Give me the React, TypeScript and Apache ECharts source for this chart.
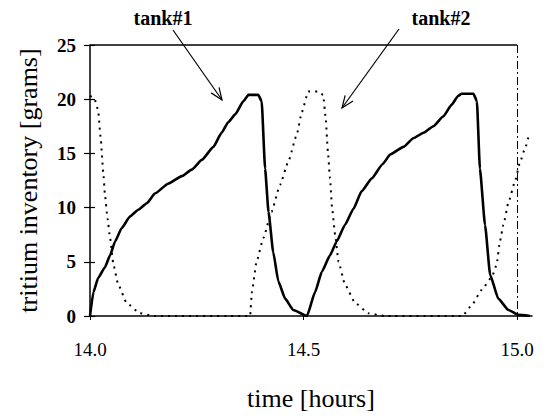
import React, { useEffect, useRef } from "react";
import * as echarts from "echarts";

// tank #1 (solid curve): time [hours], inventory [grams]
const tank1Time = [
  14.0, 14.008, 14.019, 14.035, 14.047, 14.059, 14.074, 14.094, 14.113, 14.133,
  14.152, 14.183, 14.215, 14.238, 14.262, 14.289, 14.308, 14.324, 14.34, 14.359,
  14.371, 14.394, 14.402, 14.41, 14.418, 14.429, 14.441, 14.457, 14.476, 14.508,
  14.527, 14.543, 14.562, 14.578, 14.597, 14.617, 14.636, 14.66, 14.685, 14.703,
  14.734, 14.757, 14.781, 14.804, 14.827, 14.847, 14.862, 14.87, 14.898, 14.906,
  14.913, 14.925, 14.937, 14.956, 14.98, 15.003, 15.03,
];
const tank1Value = [
  0, 2.2, 3.5, 4.5, 5.6, 6.9, 8.1, 9.2, 9.8, 10.4,
  11.3, 12.2, 12.9, 13.5, 14.4, 15.6, 16.9, 17.9, 18.6, 19.8,
  20.4, 20.4, 19.8, 13.6, 9.6, 5.9, 3.2, 1.6, 0.55, 0,
  2.2, 4.1, 5.6, 6.9, 8.4, 9.9, 11.5, 12.7, 14.0, 14.9,
  15.6, 16.4, 16.9, 17.5, 18.4, 19.5, 20.3, 20.5, 20.5, 19.8,
  13.6, 8.4, 3.8, 1.6, 0.55, 0.1, 0,
];

// tank #2 (dotted curve)
const tank2Time = [
  14.0, 14.01, 14.019, 14.025, 14.031, 14.035, 14.041, 14.047, 14.055, 14.066,
  14.086, 14.117, 14.15, 14.375, 14.379, 14.39, 14.406, 14.425, 14.445, 14.464,
  14.484, 14.496, 14.511, 14.535, 14.546, 14.552, 14.557, 14.562, 14.567, 14.574,
  14.582, 14.597, 14.621, 14.652, 14.69, 14.872, 14.894, 14.917, 14.941, 14.952,
  14.96, 14.968, 14.98, 14.995, 15.007, 15.019, 15.028,
];
const tank2Value = [
  20.3, 20.1, 19.0, 16.4, 13.3, 11.2, 9.0, 7.2, 4.7, 2.9,
  1.2, 0.25, 0, 0, 2.2, 5.0, 7.2, 9.6, 12.1, 14.2,
  16.7, 18.8, 20.7, 20.7, 20.4, 18.2, 15.2, 12.7, 9.9, 7.5,
  5.0, 2.9, 1.2, 0.25, 0, 0, 1.0, 2.4, 3.6, 4.7,
  6.9, 8.4, 10.5, 12.4, 14.2, 15.5, 16.7,
];

const xTickValues = [14.0, 14.5, 15.0];
const yMin = 0;
const yMax = 25;
const yStep = 5;
const xMin = 14.0;
const xEnd = 15.0;
const xMax = 15.035;

export default function App() {
  const ref = useRef<HTMLDivElement>(null);

  useEffect(() => {
    document.body.style.margin = "0";
    const chart = echarts.init(ref.current as HTMLDivElement, null, { renderer: "svg" });
    const serif = "Liberation Serif";
    const zip = (t: number[], v: number[]) => t.map((x, i) => [x, v[i]]);

    const arrow = (x1: number, y1: number, x2: number, y2: number) => {
      const ang = Math.atan2(y2 - y1, x2 - x1);
      const L = 13;
      const a = 0.38;
      const p1 = [x2 - L * Math.cos(ang - a), y2 - L * Math.sin(ang - a)];
      const p2 = [x2 - L * Math.cos(ang + a), y2 - L * Math.sin(ang + a)];
      return [
        { type: "line", shape: { x1, y1, x2, y2 }, style: { stroke: "#000", lineWidth: 1.2 } },
        {
          type: "polyline",
          shape: { points: [p1, [x2, y2], p2] },
          style: { stroke: "#000", lineWidth: 1.2, fill: null },
        },
      ];
    };

    chart.setOption({
      animation: false,
      backgroundColor: "#fff",
      grid: { left: 90, top: 45, right: 14, bottom: 100 },
      xAxis: {
        type: "value",
        min: xMin,
        max: xMax,
        splitLine: { show: false },
        axisLine: { lineStyle: { color: "#000", width: 1.5 } },
        axisTick: { customValues: xTickValues, length: 4, lineStyle: { color: "#000" } },
        axisLabel: {
          customValues: xTickValues,
          formatter: (v: number) => v.toFixed(1),
          color: "#000",
          fontFamily: serif,
          fontSize: 19,
          margin: 24,
        },
        name: "time [hours]",
        nameLocation: "middle",
        nameGap: 69,
        nameTextStyle: { color: "#000", fontFamily: serif, fontSize: 26 },
      },
      yAxis: [
        {
          type: "value",
          min: yMin,
          max: yMax,
          interval: yStep,
          splitLine: { show: false },
          axisLine: { show: true, lineStyle: { color: "#000", width: 1.5 } },
          axisTick: { show: true, length: 6, lineStyle: { color: "#000", width: 1.2 } },
          axisLabel: {
            color: "#000",
            fontFamily: serif,
            fontSize: 19,
            fontWeight: "bold",
            margin: 14,
          },
          name: "tritium inventory [grams]",
          nameLocation: "middle",
          nameGap: 49,
          nameTextStyle: { color: "#000", fontFamily: serif, fontSize: 26 },
        },
        {
          type: "value",
          min: yMin,
          max: yMax,
          interval: yStep,
          position: "left",
          splitLine: { show: false },
          axisLine: { show: false },
          axisTick: { show: true, inside: true, length: 5, lineStyle: { color: "#000", width: 1.2 } },
          axisLabel: { show: false },
        },
      ],
      series: [
        {
          name: "tank#1",
          type: "line",
          data: zip(tank1Time, tank1Value),
          showSymbol: false,
          smooth: 0.15,
          smoothMonotone: "x",
          lineStyle: { color: "#000", width: 2.6 },
          markLine: {
            silent: true,
            symbol: ["none", "none"],
            label: { show: false },
            lineStyle: { color: "#000", width: 1.5, type: "solid" },
            data: [
              [{ coord: [xMin, yMax] }, { coord: [xEnd, yMax] }],
              [
                { coord: [xEnd, yMax], lineStyle: { color: "#000", width: 1, type: [8, 3, 2, 3] } },
                { coord: [xEnd, yMin] },
              ],
            ],
          },
        },
        {
          name: "tank#2",
          type: "line",
          data: zip(tank2Time, tank2Value),
          showSymbol: false,
          smooth: 0.15,
          smoothMonotone: "x",
          lineStyle: { color: "#000", width: 2, type: [2, 5] },
        },
      ],
      graphic: [
        {
          type: "text",
          x: 163,
          y: 18,
          style: {
            text: "tank#1",
            fill: "#000",
            font: `bold 20px ${serif}`,
            textAlign: "center",
            textVerticalAlign: "middle",
          },
        },
        {
          type: "text",
          x: 441,
          y: 18,
          style: {
            text: "tank#2",
            fill: "#000",
            font: `bold 20px ${serif}`,
            textAlign: "center",
            textVerticalAlign: "middle",
          },
        },
        ...arrow(173, 30, 222, 100),
        ...arrow(399, 29, 342, 108),
      ],
    });

    return () => chart.dispose();
  }, []);

  return <div ref={ref} style={{ width: 546, height: 416 }} />;
}
